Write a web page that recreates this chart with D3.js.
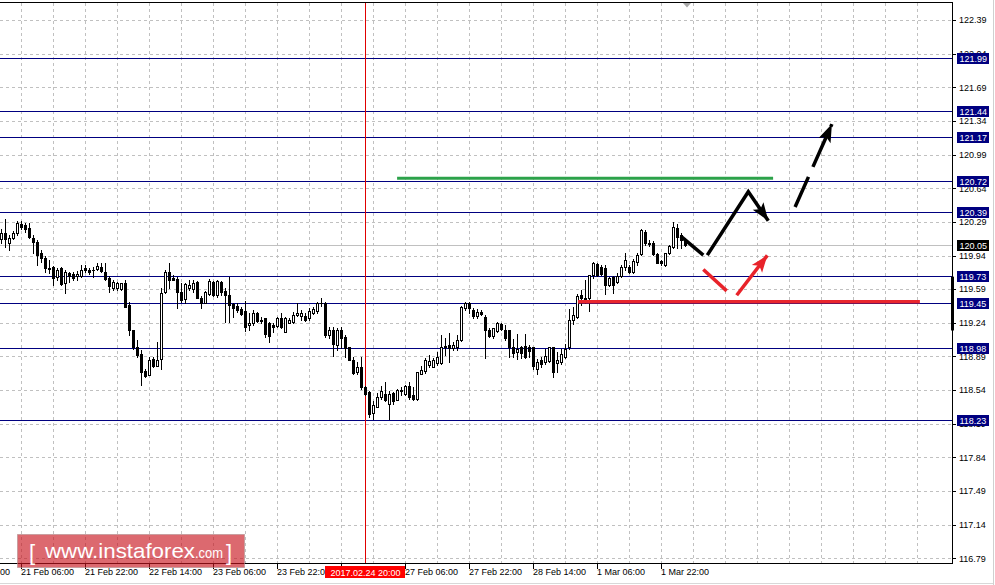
<!DOCTYPE html>
<html><head><meta charset="utf-8">
<script src="https://cdn.jsdelivr.net/npm/d3@7"></script>
<style>body{margin:0;background:#fff;overflow:hidden}svg{display:block}</style>
</head><body>
<svg id="chart" width="995" height="585"></svg>
<script>
// ---------- DATA ----------
const opens = [120.107,120.176,120.072,120.124,120.179,120.266,120.256,120.231,120.127,120.082,119.961,119.909,119.808,119.822,119.718,119.805,119.649,119.753,119.746,119.725,
119.725,119.805,119.787,119.789,119.801,119.822,119.770,119.711,119.607,119.607,119.596,119.649,119.423,119.163,118.989,118.913,118.739,118.701,118.864,118.788,
118.868,119.562,119.770,119.707,119.694,119.562,119.483,119.604,119.587,119.666,119.503,119.448,119.538,119.666,119.531,119.666,119.573,119.528,119.434,119.413,
119.379,119.361,119.212,119.240,119.347,119.274,119.285,119.233,119.215,119.208,119.295,119.146,119.243,119.250,119.326,119.309,119.309,119.285,119.344,119.365,
119.441,119.448,119.111,119.170,119.014,119.170,119.094,118.983,118.858,118.730,118.782,118.574,118.522,118.303,118.365,118.463,118.504,118.400,118.511,118.442,
118.546,118.504,118.581,118.487,118.445,118.712,118.740,118.799,118.782,118.817,118.817,118.997,119.007,118.973,118.990,119.059,119.389,119.441,119.372,119.309,
119.351,119.302,119.170,119.101,119.156,119.225,119.163,119.163,118.983,118.937,118.983,118.996,118.989,118.983,118.764,118.851,118.833,118.844,118.983,118.823,
118.833,118.885,118.983,119.274,119.302,119.527,119.493,119.493,119.735,119.850,119.822,119.812,119.631,119.718,119.666,119.725,119.822,119.822,119.770,119.874,
119.954,120.187,120.072,120.065,119.954,119.881,119.840,119.961,120.030,120.231,120.152,120.100];
const highs = [120.211,120.315,120.152,120.197,120.297,120.297,120.280,120.273,120.152,120.100,120.002,119.933,119.891,119.829,119.805,119.822,119.787,119.770,119.770,119.780,
119.839,119.839,119.805,119.822,119.864,119.857,119.857,119.725,119.683,119.666,119.656,119.690,119.458,119.170,119.059,118.955,118.764,118.885,118.885,119.041,
119.597,119.787,119.857,119.733,119.718,119.649,119.649,119.684,119.684,119.677,119.517,119.573,119.691,119.677,119.684,119.677,119.597,119.719,119.448,119.448,
119.406,119.469,119.337,119.372,119.354,119.302,119.295,119.250,119.233,119.302,119.337,119.302,119.295,119.354,119.441,119.372,119.337,119.389,119.406,119.458,
119.493,119.458,119.198,119.198,119.181,119.198,119.111,118.990,118.886,118.834,118.886,118.581,118.532,118.428,118.511,118.581,118.626,118.532,118.522,118.556,
118.567,118.591,118.626,118.574,118.730,118.789,118.869,118.903,118.869,118.938,119.111,119.077,119.129,119.042,119.111,119.413,119.458,119.458,119.389,119.379,
119.372,119.320,119.181,119.191,119.250,119.239,119.215,119.163,119.076,119.128,118.996,119.128,119.007,118.989,118.868,118.885,118.972,118.989,118.989,118.937,
118.972,119.017,119.388,119.406,119.538,119.579,119.690,119.735,119.874,119.864,119.840,119.840,119.718,119.725,119.753,119.840,119.961,119.840,119.899,119.961,
120.211,120.204,120.100,120.093,119.968,119.892,119.968,120.048,120.290,120.266,120.169,120.120];
const lows = [120.065,120.030,120.002,120.107,120.155,120.211,120.186,120.127,119.968,119.839,119.874,119.770,119.760,119.631,119.683,119.631,119.551,119.666,119.683,119.690,
119.718,119.770,119.746,119.718,119.787,119.770,119.690,119.562,119.579,119.579,119.586,119.406,119.111,118.972,118.885,118.591,118.677,118.694,118.781,118.788,
118.764,119.545,119.607,119.683,119.399,119.458,119.448,119.580,119.562,119.503,119.389,119.441,119.528,119.517,119.510,119.528,119.250,119.250,119.302,119.354,
119.319,119.156,119.163,119.215,119.250,119.233,119.094,119.042,119.146,119.198,119.191,119.146,119.233,119.233,119.309,119.274,119.260,119.274,119.330,119.344,
119.410,119.094,119.077,118.893,118.955,118.973,118.879,118.851,118.712,118.712,118.556,118.487,118.261,118.244,118.359,118.452,118.428,118.234,118.393,118.435,
118.487,118.487,118.452,118.442,118.435,118.705,118.719,118.775,118.775,118.799,118.810,118.903,118.834,118.955,118.955,119.052,119.372,119.337,119.295,119.285,
119.320,118.869,119.094,119.087,119.146,119.163,119.059,118.885,118.885,118.868,118.878,118.878,118.885,118.764,118.712,118.781,118.816,118.833,118.677,118.729,
118.816,118.878,118.972,119.232,119.295,119.423,119.447,119.364,119.711,119.725,119.735,119.538,119.621,119.545,119.649,119.718,119.794,119.753,119.760,119.840,
119.944,120.048,120.037,119.944,119.857,119.840,119.829,119.954,120.013,120.023,120.013,120.040];
const closes = [120.169,120.107,120.117,120.176,120.273,120.238,120.218,120.134,120.082,119.943,119.919,119.812,119.801,119.711,119.794,119.642,119.770,119.725,119.707,119.746,
119.794,119.787,119.773,119.785,119.829,119.777,119.700,119.621,119.666,119.656,119.649,119.406,119.163,118.989,118.902,118.729,118.684,118.857,118.788,118.857,
119.551,119.770,119.683,119.690,119.562,119.476,119.642,119.632,119.656,119.503,119.441,119.562,119.677,119.528,119.677,119.562,119.528,119.424,119.389,119.372,
119.330,119.198,119.240,119.347,119.260,119.260,119.122,119.101,119.198,119.295,119.198,119.295,119.274,119.319,119.347,119.344,119.267,119.365,119.379,119.448,
119.448,119.111,119.163,119.018,119.163,119.084,118.973,118.851,118.719,118.775,118.574,118.504,118.296,118.383,118.463,118.529,118.435,118.504,118.428,118.546,
118.532,118.581,118.470,118.445,118.730,118.747,118.851,118.844,118.851,118.879,118.990,118.983,118.973,119.007,119.059,119.406,119.441,119.389,119.309,119.354,
119.330,119.163,119.101,119.181,119.240,119.180,119.087,118.983,118.927,118.972,118.927,118.885,118.948,118.788,118.833,118.809,118.892,118.983,118.729,118.858,
118.913,118.972,119.274,119.319,119.517,119.493,119.482,119.735,119.857,119.735,119.746,119.631,119.701,119.631,119.725,119.822,119.892,119.770,119.885,119.944,
120.204,120.065,120.058,119.954,119.857,119.857,119.961,120.037,120.238,120.134,120.100,120.050];

const yTicks = [122.39,122.04,121.69,121.34,120.99,120.64,120.29,119.94,119.59,119.24,118.89,118.54,118.19,117.84,117.49,117.14,116.79];
const levels = [121.99,121.44,121.17,120.72,120.39,119.73,119.45,118.98,118.23];
const currentPrice = 120.05;
const xTickBars = [-11,5,21,37,53,69,85,101,117,133,149,165];
const xTickLabels = ["20 Feb 14:00","21 Feb 06:00","21 Feb 22:00","22 Feb 14:00","23 Feb 06:00","23 Feb 22:00","24 Feb 14:00","27 Feb 06:00","27 Feb 22:00","28 Feb 14:00","1 Mar 06:00","1 Mar 22:00"];
const cursorBar = 91;
const cursorLabel = "2017.02.24 20:00";
// annotations as [bar index, price]
const greenLevel = [[98.9,120.745],[192.9,120.745]];
const redLevel = [[144.1,119.46],[229.6,119.46]];
const blackPathA = [[169.8,120.142],[175.45,119.944]];
const blackPathB = [[176.45,119.944],[186.7,120.603],[191.7,120.301]];
const blackDashed = [[198.4,120.444],[207.6,121.307]];
const redPathA = [[175.45,119.795],[181.3,119.572]];
const redPathB = [[183.8,119.527],[191.45,119.941]];
const scaleBar = [119.72,119.16];
const watermark = ["[","www.instaforex",".com","]"];

// ---------- SCALES ----------
const svg = d3.select("#chart");
const x = d3.scaleLinear().domain([0, 238]).range([1.5, 953.5]);
const y = d3.scaleLinear().domain([116.79, 122.39]).range([558.3, 20]);
const plotR = 952.5, plotT = 2.5, plotB = 563.5;
const font = "'Liberation Sans', Arial, sans-serif";
const ry = v => Math.round(y(v)) + 0.5;

// ---------- GRID ----------
const grid = svg.append("g").attr("stroke", "#c0c0c0").attr("stroke-dasharray", "3,3").attr("shape-rendering","crispEdges");
grid.selectAll("line.h").data(yTicks).join("line")
  .attr("x1", 0).attr("x2", plotR).attr("y1", d => ry(d)).attr("y2", d => ry(d));
grid.selectAll("line.v").data(d3.range(5, 230, 8)).join("line")
  .attr("x1", d => x(d)).attr("x2", d => x(d)).attr("y1", plotT).attr("y2", plotB);

// ---------- LEVEL LINES ----------
svg.append("g").selectAll("line").data(levels).join("line")
  .attr("x1", 0).attr("x2", plotR).attr("y1", d => ry(d)).attr("y2", d => ry(d))
  .attr("stroke", "#000080").attr("shape-rendering","crispEdges");
svg.append("line").attr("x1", 0).attr("x2", plotR).attr("y1", ry(currentPrice)).attr("y2", ry(currentPrice))
  .attr("stroke", "#c0c0c0").attr("shape-rendering","crispEdges");

// cursor vertical line
svg.append("line").attr("x1", x(cursorBar)).attr("x2", x(cursorBar)).attr("y1", plotT).attr("y2", plotB)
  .attr("stroke", "#e00000").attr("shape-rendering","crispEdges");

// green level line
const line = d3.line().x(d => x(d[0])).y(d => y(d[1]));
svg.append("path").attr("d", line(greenLevel)).attr("stroke", "#2ca24a").attr("stroke-width", 3).attr("fill","none");

// ---------- CANDLES ----------
const candles = svg.append("g");
opens.forEach((o, i) => {
  const c = closes[i], h = highs[i], l = lows[i];
  const cx = x(i);
  candles.append("line").attr("x1", cx).attr("x2", cx).attr("y1", Math.round(y(h))).attr("y2", Math.round(y(l)) + 1)
    .attr("stroke", "#000").attr("shape-rendering","crispEdges");
  const top = ry(Math.max(o, c)), bot = ry(Math.min(o, c));
  candles.append("rect").attr("x", cx - 1).attr("y", top).attr("width", 2).attr("height", Math.max(bot - top, 0.01))
    .attr("fill", c >= o ? "#fff" : "#000").attr("stroke", "#000").attr("shape-rendering","crispEdges");
});

// red level line
svg.append("path").attr("d", line(redLevel)).attr("stroke", "#e9262e").attr("stroke-width", 3.5).attr("fill","none");

// ---------- ARROWS ----------
function head(pts, color, len, hw) {
  const p1 = [x(pts[pts.length-2][0]), y(pts[pts.length-2][1])];
  const p2 = [x(pts[pts.length-1][0]), y(pts[pts.length-1][1])];
  const dx = p2[0]-p1[0], dy = p2[1]-p1[1], L = Math.hypot(dx, dy);
  const ux = dx/L, uy = dy/L, bx = p2[0]-ux*len, by = p2[1]-uy*len;
  svg.append("path").attr("d", `M${p2[0]},${p2[1]}L${bx-uy*hw},${by+ux*hw}L${bx+ux*4},${by+uy*4}L${bx+uy*hw},${by-ux*hw}Z`).attr("fill", color);
}
svg.append("path").attr("d", line(blackPathA)).attr("stroke", "#000").attr("stroke-width", 3.5).attr("fill","none");
svg.append("path").attr("d", line(blackPathB.slice(0,2).concat([blackPathB[2]]))).attr("stroke", "#000").attr("stroke-width", 3.5).attr("fill","none").attr("stroke-linejoin","miter")
  .attr("stroke-dasharray", null);
head(blackPathB, "#000", 18, 6.5);
svg.append("path").attr("d", line(blackDashed)).attr("stroke", "#000").attr("stroke-width", 3.5).attr("fill","none").attr("stroke-dasharray","33,11");
head(blackDashed, "#000", 18, 6.5);
svg.append("path").attr("d", line(redPathA)).attr("stroke", "#e8232a").attr("stroke-width", 3.5).attr("fill","none");
svg.append("path").attr("d", line(redPathB)).attr("stroke", "#e8232a").attr("stroke-width", 3.5).attr("fill","none");
head(redPathB, "#e8232a", 17, 6.5);

// ---------- FRAME ----------
const frame = svg.append("g").attr("stroke", "#000").attr("shape-rendering","crispEdges");
frame.append("line").attr("x1", 0).attr("x2", plotR).attr("y1", plotT).attr("y2", plotT);
frame.append("line").attr("x1", plotR).attr("x2", plotR).attr("y1", plotT).attr("y2", plotB);
frame.append("line").attr("x1", 0).attr("x2", plotR).attr("y1", plotB).attr("y2", plotB);
svg.append("rect").attr("x", 951).attr("width", 3).attr("y", y(scaleBar[0])).attr("height", y(scaleBar[1]) - y(scaleBar[0])).attr("fill", "#000");
// shift marker
svg.append("path").attr("d", `M${x(171)-2.5},${plotT+0.5}L${x(171)+5.5},${plotT+0.5}L${x(171)+1.5},${plotT+5}Z`).attr("fill", "#a8a8a8");

// ---------- Y AXIS ----------
const yAx = svg.append("g").attr("font-family", font).attr("font-size", "9px");
yAx.selectAll("line").data(yTicks).join("line").attr("x1", plotR).attr("x2", 956).attr("y1", d => ry(d)).attr("y2", d => ry(d)).attr("stroke","#000").attr("shape-rendering","crispEdges");
yAx.selectAll("text").data(yTicks).join("text").attr("x", 959).attr("y", d => y(d) + 3.3).text(d => d.toFixed(2)).attr("fill", "#000");
const lab = svg.append("g").attr("font-family", font).attr("font-size", "9px");
levels.concat([currentPrice]).forEach((v, i) => {
  const cy = Math.round(y(v));
  lab.append("rect").attr("x", 957).attr("y", cy - 5).attr("width", 32).attr("height", 11).attr("fill", i === levels.length ? "#000" : "#000080");
  lab.append("text").attr("x", 959.5).attr("y", cy + 3.8).attr("fill", "#fff").text(v.toFixed(2));
});

// ---------- X AXIS ----------
const xAx = svg.append("g").attr("font-family", font).attr("font-size", "9px");
xTickBars.forEach((b, i) => {
  xAx.append("line").attr("x1", x(b)).attr("x2", x(b)).attr("y1", plotB).attr("y2", plotB + 5).attr("stroke", "#000").attr("shape-rendering","crispEdges");
  xAx.append("text").attr("x", x(b) - 0.5).attr("y", 575).attr("fill", "#000").text(xTickLabels[i]);
});
xAx.append("rect").attr("x", x(cursorBar) - 40.5).attr("y", 566).attr("width", 80).attr("height", 12).attr("fill", "#ff0000");
xAx.append("text").attr("x", x(cursorBar)).attr("y", 575.5).attr("text-anchor", "middle").attr("fill", "#fff").text(cursorLabel);

// window edges
svg.append("line").attr("x1", 0).attr("x2", 993).attr("y1", 583.5).attr("y2", 583.5).attr("stroke", "#d8d8d8");
svg.append("line").attr("x1", 993.5).attr("x2", 993.5).attr("y1", 0).attr("y2", 585).attr("stroke", "#d0d0d0");

// ---------- WATERMARK ----------
const wm = svg.append("g");
wm.append("rect").attr("x", 17.5).attr("y", 534.5).attr("width", 227).attr("height", 33).attr("fill", "#c8141e").attr("fill-opacity", 0.64)
  .attr("stroke", "#b09090").attr("stroke-opacity", 0.6);
const wt = wm.append("g").attr("font-family", font).attr("fill", "#fff");
wt.append("text").attr("x", 29).attr("y", 560).attr("font-size", "22px").text(watermark[0]);
wt.append("text").attr("x", 45).attr("y", 557.5).attr("font-size", "21px").attr("textLength", 150).attr("lengthAdjust","spacingAndGlyphs").text(watermark[1]);
wt.append("text").attr("x", 195).attr("y", 557.5).attr("font-size", "14.5px").attr("textLength", 28).attr("lengthAdjust","spacingAndGlyphs").text(watermark[2]);
wt.append("text").attr("x", 226).attr("y", 560).attr("font-size", "22px").text(watermark[3]);
</script>
</body></html>
